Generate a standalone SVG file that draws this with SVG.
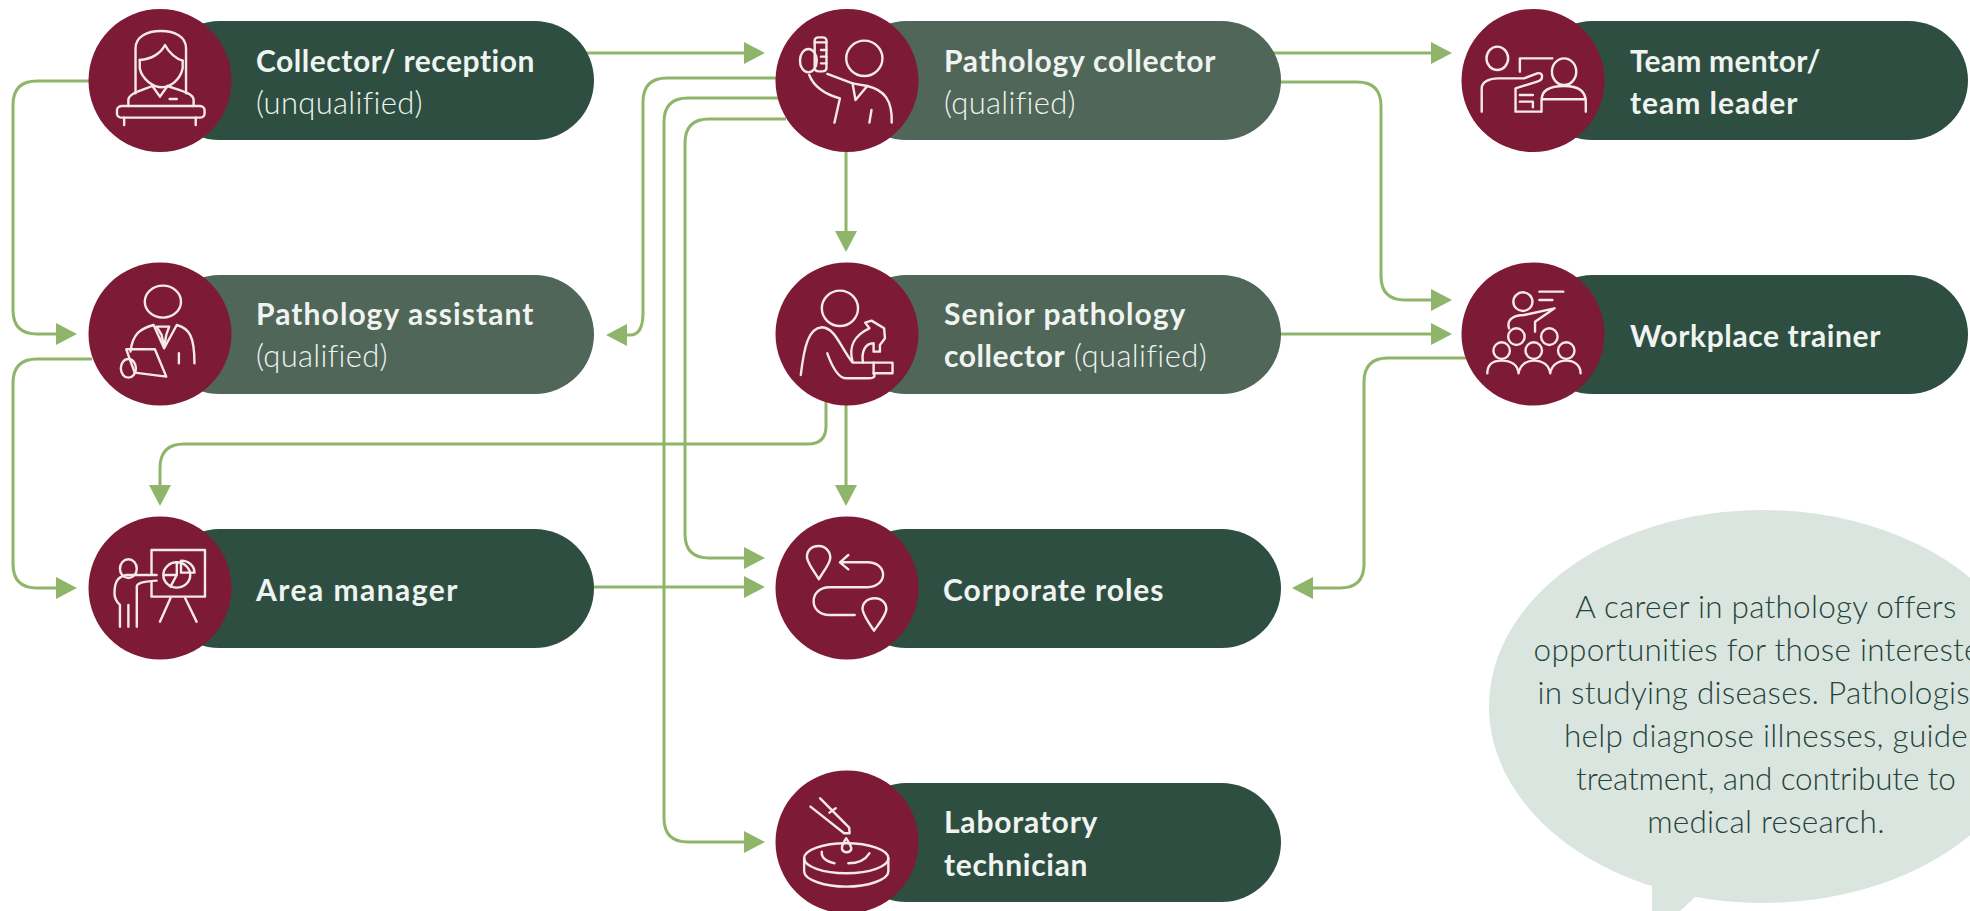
<svg xmlns="http://www.w3.org/2000/svg" width="1970" height="911" viewBox="0 0 1970 911">
<style>
.pd{fill:#2e4e42}.pl{fill:#4f6659}.c{fill:#7d1a35}
.ic{fill:none;stroke:#f5e9ea;stroke-width:2.4;stroke-linecap:round;stroke-linejoin:round}
.ic *{vector-effect:non-scaling-stroke}
.con{fill:none;stroke:#8fb56b;stroke-width:3;marker-end:url(#arrow)}
text{font-family:"Lato","Liberation Sans",sans-serif;font-size:30px;fill:#f0f4f0}
.b{font-weight:700;font-size:30px;letter-spacing:.55px}.l{font-weight:300;font-size:31px;letter-spacing:.4px}
.note{font-size:31.5px;font-weight:300;letter-spacing:.25px;fill:#24443a;text-anchor:middle}
</style>
<defs>
<marker id="arrow" markerUnits="userSpaceOnUse" markerWidth="21" markerHeight="24" refX="1" refY="12" orient="auto" viewBox="0 0 21 24"><path d="M0 1 L21 12 L0 23 Z" fill="#8fb56b"/></marker>
</defs>
<rect width="1970" height="911" fill="#fff"/>
<g id="connectors">
<path class="con" d="M90 81 H37 Q13 81 13 105 V310 Q13 334 37 334 H57"/>
<path class="con" d="M570 53 H745"/>
<path class="con" d="M780 78 H667 Q643 78 643 102 V313 Q643 335 630 335 H626"/>
<path class="con" d="M780 98 H688 Q664 98 664 122 V818 Q664 842 688 842 H745"/>
<path class="con" d="M786 119 H709 Q685 119 685 143 V534 Q685 558 709 558 H745"/>
<path class="con" d="M846 150 V232"/>
<path class="con" d="M1260 53 H1432"/>
<path class="con" d="M1260 82 H1357 Q1381 82 1381 106 V276 Q1381 300 1405 300 H1432"/>
<path class="con" d="M1260 334 H1432"/>
<path class="con" d="M1468 358 H1388 Q1364 358 1364 382 V564 Q1364 588 1340 588 H1312"/>
<path class="con" d="M826 400 V426 Q826 444 808 444 H184 Q160 444 160 468 V486"/>
<path class="con" d="M846 403 V486"/>
<path class="con" d="M92 359 H37 Q13 359 13 383 V564 Q13 588 37 588 H57"/>
<path class="con" d="M570 587 H745"/>
</g>
<g id="node-collector-reception">
<rect class="pd" x="160" y="21" width="434" height="119" rx="59.5"/>
<circle class="c" cx="160" cy="80.5" r="71.5"/>
<g class="ic" transform="scale(0.4209 0.3333)">
<path d="M322 280 V145 C322 110 350 93 382 93 C415 93 442 110 442 145 V280"/>
<path d="M332 180 C360 178 382 160 392 135 C402 160 420 178 434 182"/>
<path d="M332 180 V205 C338 240 365 262 385 262 C405 262 428 240 434 205 V182"/>
<path d="M362 258 L380 290 L398 258"/>
<path d="M305 318 V300 C305 280 335 272 362 258 M398 258 C430 272 460 280 460 300 V318"/>
<path d="M403 297 H420"/>
<rect x="278" y="318" width="208" height="35" rx="12"/>
<path d="M295 353 V375 M465 353 V375"/>
</g>
<text class="b" x="256" y="72" textLength="279">Collector/ reception</text>
<text class="l" x="256" y="114" textLength="167">(unqualified)</text>
</g>
<g id="node-pathology-assistant">
<rect class="pl" x="160" y="275" width="434" height="119" rx="59.5"/>
<circle class="c" cx="160" cy="334" r="71.5"/>
<g class="ic" transform="scale(0.4209 0.3333)">
<ellipse cx="387" cy="905" rx="43" ry="48"/>
<path d="M310 1055 C315 1000 335 985 365 975 L390 1045 L420 975 C450 985 462 1010 462 1090"/>
<path d="M372 980 H402 L395 1005 L390 1040 L384 1005 Z M425 1060 V1090"/>
<path d="M300 1048 H368 L395 1130 L320 1118 Z"/>
<ellipse cx="305" cy="1105" rx="18" ry="28"/>
</g>
<text class="b" x="256" y="325" textLength="278">Pathology assistant</text>
<text class="l" x="256" y="367" textLength="132">(qualified)</text>
</g>
<g id="node-area-manager">
<rect class="pd" x="160" y="529" width="434" height="119" rx="59.5"/>
<circle class="c" cx="160" cy="588" r="71.5"/>
<g class="ic" transform="translate(0 450) scale(0.4209 0.3333)">
<ellipse cx="305" cy="356" rx="20" ry="28"/>
<path d="M360 372 V300 H487 V440 H360 V395"/>
<path d="M372 375 H300 C280 380 272 395 272 430 C272 450 285 465 285 465 V530 M305 465 V530 M325 530 V410 C325 400 335 395 372 392"/>
<path d="M405 445 L380 515 M440 445 L467 515"/>
<ellipse cx="420" cy="375" rx="32" ry="38"/>
<path d="M430 332 C450 332 462 350 462 368 H430 Z M420 337 V375 H390 M420 375 L405 410"/>
</g>
<text class="b" x="256" y="601" textLength="202">Area manager</text>
</g>
<g id="node-pathology-collector">
<rect class="pl" x="847" y="21" width="434" height="119" rx="59.5"/>
<circle class="c" cx="847" cy="80.5" r="71.5"/>
<g class="ic" transform="translate(640 0) scale(0.4209 0.3333)">
<rect x="415" y="112" width="28" height="102" rx="9"/>
<path d="M415 127 H443 M430 150 H443 M430 170 H443 M430 190 H443"/>
<ellipse cx="400" cy="182" rx="20" ry="35"/>
<ellipse cx="533" cy="175" rx="43" ry="53"/>
<path d="M402 225 C415 265 445 285 475 295 L462 368"/>
<path d="M445 222 L505 250 L512 300 L540 258 C580 270 600 300 598 368"/>
<path d="M505 250 L540 258 M550 330 L545 368"/>
</g>
<text class="b" x="944" y="72" textLength="272">Pathology collector</text>
<text class="l" x="944" y="114" textLength="132">(qualified)</text>
</g>
<g id="node-senior-pathology-collector">
<rect class="pl" x="847" y="275" width="434" height="119" rx="59.5"/>
<circle class="c" cx="847" cy="334" r="71.5"/>
<g class="ic" transform="translate(640 0) scale(0.4209 0.3333)">
<ellipse cx="475" cy="925" rx="43" ry="53"/>
<path d="M382 1125 C390 1040 400 985 432 982 C465 985 475 1040 505 1088 H600 V1120 H555 C560 1130 555 1135 545 1135 H490 C470 1135 455 1095 445 1060"/>
<path d="M505 1085 C495 1040 510 1005 545 985 L535 968 L550 962 L580 985 L582 1015 L570 1035 V1055 H555 V1030 C535 1030 525 1055 530 1088"/>
<path d="M555 1088 V1120"/>
</g>
<text class="b" x="944" y="325" textLength="242">Senior pathology</text>
<text x="944" y="367"><tspan class="b">collector</tspan><tspan class="l"> (qualified)</tspan></text>
</g>
<g id="node-corporate-roles">
<rect class="pd" x="847" y="529" width="434" height="119" rx="59.5"/>
<circle class="c" cx="847" cy="588" r="71.5"/>
<g class="ic" transform="translate(640 450) scale(0.4209 0.3333)">
<path d="M425 288 C405 288 395 305 397 325 C400 345 420 375 425 388 C432 370 450 345 452 325 C453 305 440 288 425 288 Z"/>
<path d="M495 315 L475 337 L495 358 M478 337 H540 C590 337 590 410 540 412 H450 C400 412 400 495 450 495 H510"/>
<path d="M558 445 C538 445 527 462 529 480 C532 500 550 530 556 542 C563 528 583 500 585 480 C587 462 575 445 558 445 Z"/>
</g>
<text class="b" x="943" y="601" textLength="221">Corporate roles</text>
</g>
<g id="node-laboratory-technician">
<rect class="pd" x="847" y="783" width="434" height="119" rx="59.5"/>
<circle class="c" cx="847" cy="842" r="71.5"/>
<g class="ic" transform="translate(640 450) scale(0.4209 0.3333)">
<ellipse cx="490" cy="1225" rx="100" ry="45"/>
<path d="M390 1225 V1265 C390 1290 440 1310 490 1310 C540 1310 590 1290 590 1265 V1225"/>
<path d="M432 1205 C430 1225 445 1235 462 1240 M495 1240 C515 1240 535 1230 545 1210"/>
<path d="M490 1165 C482 1180 478 1190 480 1198 C484 1210 498 1210 502 1198 C503 1190 497 1180 490 1165 Z"/>
<path d="M405 1070 L485 1150 L498 1150 L497 1133 L428 1045 M450 1088 L465 1075"/>
</g>
<text class="b" x="944" y="833" textLength="154">Laboratory</text>
<text class="b" x="944" y="876" textLength="144">technician</text>
</g>
<g id="node-team-mentor">
<rect class="pd" x="1533" y="21" width="435" height="119" rx="59.5"/>
<circle class="c" cx="1533" cy="80.5" r="71.5"/>
<g class="ic" transform="translate(1290 0) scale(0.4337 0.3333)">
<ellipse cx="478" cy="175" rx="25" ry="35"/>
<path d="M530 215 V175 H605"/>
<path d="M442 335 V265 C442 245 460 235 480 235 H540 L570 220 C585 215 585 240 570 245 L520 265 V335 H578"/>
<path d="M530 285 H560 M530 305 H560 V322"/>
<ellipse cx="632" cy="215" rx="28" ry="40"/>
<path d="M580 335 V300 C580 270 600 258 632 258 C665 258 682 275 682 305 V335 M582 298 H680"/>
</g>
<text class="b" x="1630" y="72" textLength="191">Team mentor/</text>
<text class="b" x="1630" y="114" textLength="168">team leader</text>
</g>
<g id="node-workplace-trainer">
<rect class="pd" x="1533" y="275" width="435" height="119" rx="59.5"/>
<circle class="c" cx="1533" cy="334" r="71.5"/>
<g class="ic" transform="translate(1290 0) scale(0.4337 0.3333)">
<ellipse cx="537" cy="905" rx="22" ry="28"/>
<path d="M575 875 H630 M575 900 H605"/>
<path d="M505 985 C498 955 520 945 540 945 L610 925 L565 965 V995"/>
<ellipse cx="522" cy="1010" rx="19" ry="25"/>
<ellipse cx="598" cy="1010" rx="19" ry="25"/>
<ellipse cx="488" cy="1052" rx="19" ry="25"/>
<ellipse cx="562" cy="1052" rx="19" ry="25"/>
<ellipse cx="637" cy="1052" rx="19" ry="25"/>
<path d="M455 1120 C455 1092 470 1082 488 1082 C510 1082 525 1095 527 1120 C530 1095 545 1082 562 1082 C582 1082 597 1095 600 1120 C603 1095 618 1082 637 1082 C655 1082 670 1095 670 1120"/>
</g>
<text class="b" x="1630" y="347" textLength="251">Workplace trainer</text>
</g>
<g id="note">
<path d="M1652 860 V911 H1680 L1708 885 Z" fill="#dbe5df"/>
<ellipse cx="1763" cy="706.5" rx="274" ry="196.5" fill="#dbe5df"/>
<text class="note" x="1766" y="618">A career in pathology offers</text>
<text class="note" x="1766" y="661">opportunities for those interested</text>
<text class="note" x="1766" y="704">in studying diseases. Pathologists</text>
<text class="note" x="1766" y="747">help diagnose illnesses, guide</text>
<text class="note" x="1766" y="790" textLength="380">treatment, and contribute to</text>
<text class="note" x="1766" y="833">medical research.</text>
</g>
</svg>
